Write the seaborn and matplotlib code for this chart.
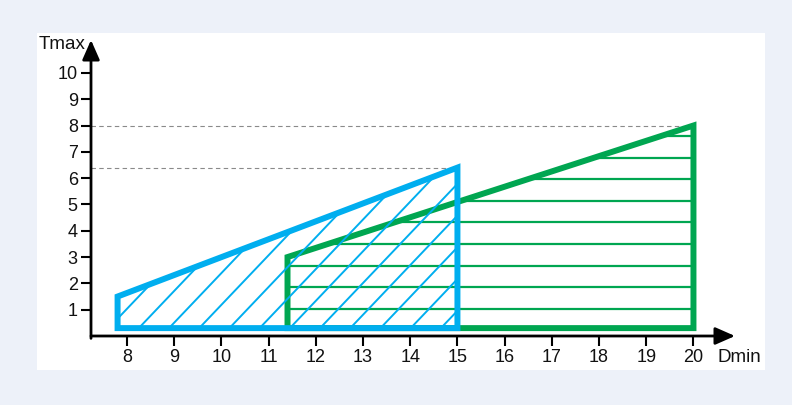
import numpy as np
import matplotlib
matplotlib.use("Agg")
import matplotlib.pyplot as plt
import seaborn as sns
from matplotlib.patches import Polygon, Rectangle

# polygon outlines (Dmin, Tmax)
blue_x = [7.8, 7.8, 15.0, 15.0]
blue_y = [0.3, 1.5, 6.4, 0.3]
green_x = [11.4, 11.4, 20.0, 20.0]
green_y = [0.3, 3.0, 8.0, 0.3]

# dashed reference levels and where they stop
ref_levels = [8.0, 6.4]
ref_ends = [20.0, 15.0]

x_ticks = list(range(8, 21))
y_ticks = list(range(1, 11))

blue = "#00aeef"
green = "#00a651"

sns.set_theme(style="white")
plt.rcParams['font.family'] = ['Liberation Sans', 'DejaVu Sans']

fig = plt.figure(figsize=(7.92, 4.05), dpi=100)
fig.patch.set_facecolor("#edf1f9")
# white panel
fig.patches.append(Rectangle((37 / 792, 35 / 405), (765 - 37) / 792, (372 - 35) / 405,
                             transform=fig.transFigure, facecolor="white", edgecolor="none", zorder=-5))

ax = fig.add_axes([91 / 792, (405 - 336) / 405, (735 - 91) / 792, (336 - 40) / 405])
ax.set_zorder(2)
ax.set_facecolor("none")
ax.set_xlim(7.237, 20.88)
ax.set_ylim(0, 11.25)
for s in ax.spines.values():
    s.set_visible(False)

ax.set_xticks(x_ticks)
ax.set_yticks(y_ticks)
ax.tick_params(axis="both", direction="out", length=7, width=1.5, color="black",
               labelsize=13, labelcolor="#111111", pad=2.5, left=True, bottom=True)

# axes with arrows
ax.annotate("", xy=(1.0, 0), xytext=(0, 0), xycoords="axes fraction",
            arrowprops=dict(arrowstyle="-|>,head_length=0.5,head_width=0.22", color="black", lw=2,
                            mutation_scale=24, shrinkA=0, shrinkB=0), annotation_clip=False)
ax.annotate("", xy=(0, 1.0), xytext=(0, -0.008), xycoords="axes fraction",
            arrowprops=dict(arrowstyle="-|>,head_length=0.5,head_width=0.22", color="black", lw=2,
                            mutation_scale=24, shrinkA=0, shrinkB=0), annotation_clip=False)

ax.text(-0.008, 0.985, "Tmax", transform=ax.transAxes, ha="right", va="center", fontsize=13.5, color="#111111")
ax.text(20.5, -0.8, "Dmin", ha="left", va="center", fontsize=13.5, color="#111111", clip_on=False)

# dashed guide lines
for lvl, end in zip(ref_levels, ref_ends):
    ax.plot([ax.get_xlim()[0], end], [lvl, lvl], color="#8a8a8a", lw=0.8, ls=(0, (4, 3)), zorder=1)

# green area with horizontal hatch
g_patch = Polygon(np.column_stack([green_x, green_y]), closed=True, facecolor="none", edgecolor="none")
ax.add_patch(g_patch)
for yy in np.arange(1.03, max(green_y), 0.822):
    ln, = ax.plot([min(green_x), max(green_x)], [yy, yy], color=green, lw=1.6, zorder=2)
    ln.set_clip_path(g_patch)
ax.add_patch(Polygon(np.column_stack([green_x, green_y]), closed=True, fill=False,
                     edgecolor=green, lw=4.3, joinstyle="miter", zorder=3))

# blue area with diagonal hatch
b_patch = Polygon(np.column_stack([blue_x, blue_y]), closed=True, facecolor="none", edgecolor="none")
ax.add_patch(b_patch)
slope = 47.2 / 26.3 * 1.05
for x0 in np.arange(7.85 - 6, max(blue_x) + 1, 0.64):
    xs = np.array([x0, x0 + 8])
    ln, = ax.plot(xs, 0.3 + slope * (xs - x0), color=blue, lw=1.4, zorder=4)
    ln.set_clip_path(b_patch)
ax.add_patch(Polygon(np.column_stack([blue_x, blue_y]), closed=True, fill=False,
                     edgecolor=blue, lw=4.3, joinstyle="miter", zorder=5))

fig.savefig("out.png", dpi=100)
